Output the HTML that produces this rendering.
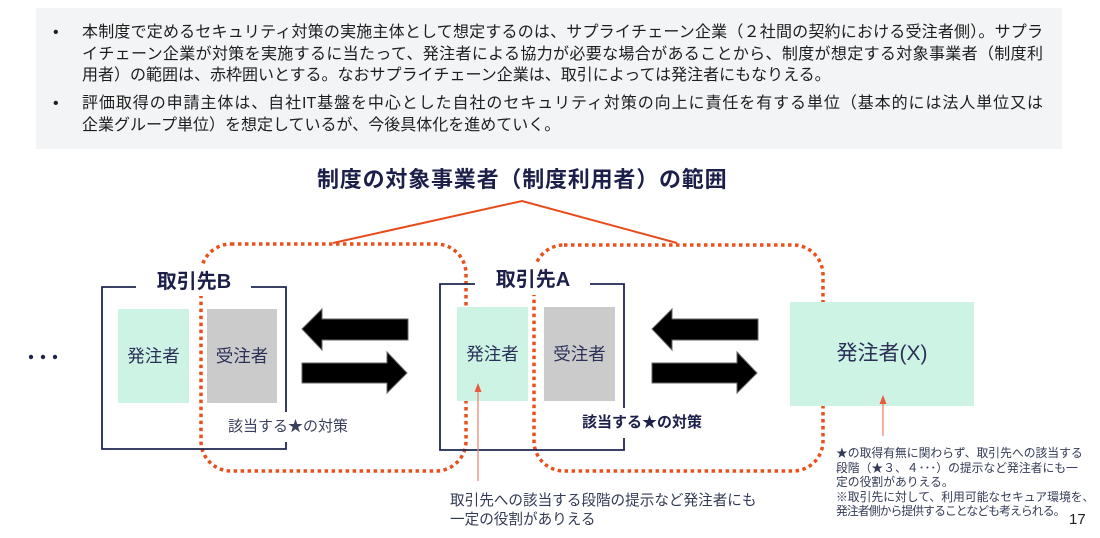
<!DOCTYPE html>
<html lang="ja">
<head>
<meta charset="utf-8">
<style>
  html,body{margin:0;padding:0;background:#fff;}
  body{width:1100px;height:538px;position:relative;overflow:hidden;
       font-family:"Liberation Sans","Noto Sans CJK JP",sans-serif;}
  .abs{position:absolute;white-space:nowrap;}
  .topbox{position:absolute;left:36px;top:8px;width:1026px;height:141px;background:#f2f4f5;}
  .ln{position:absolute;left:82px;width:961px;font-size:16px;line-height:21px;height:21px;color:#1e1e1e;white-space:nowrap;}
  .jst{text-align:justify;text-align-last:justify;white-space:normal;overflow:hidden;}
  .bul{position:absolute;left:53px;font-size:16px;line-height:21px;color:#1e1e1e;}
  svg{position:absolute;left:0;top:0;}
  .boxtxt{font-size:17.5px;color:#2b3058;text-align:center;line-height:24px;}
</style>
</head>
<body>

<div class="topbox"></div>
<div class="bul" style="top:22px;">•</div>
<div class="ln jst" style="top:22px;">本制度で定めるセキュリティ対策の実施主体として想定するのは、サプライチェーン企業（２社間の契約における受注者側）。サプラ</div>
<div class="ln jst" style="top:44px;">イチェーン企業が対策を実施するに当たって、発注者による協力が必要な場合があることから、制度が想定する対象事業者（制度利</div>
<div class="ln" style="top:65px;">用者）の範囲は、赤枠囲いとする。なおサプライチェーン企業は、取引によっては発注者にもなりえる。</div>
<div class="bul" style="top:93px;">•</div>
<div class="ln jst" style="top:93px;">評価取得の申請主体は、自社IT基盤を中心とした自社のセキュリティ対策の向上に責任を有する単位（基本的には法人単位又は</div>
<div class="ln" style="top:115px;">企業グループ単位）を想定しているが、今後具体化を進めていく。</div>

<svg width="1100" height="538" viewBox="0 0 1100 538">
  <polyline points="333,243 522,201 677,243" fill="none" stroke="#e84a1a" stroke-width="2"/>
  <rect x="201" y="244" width="265" height="227" rx="30" ry="30" fill="none" stroke="#e8501c" stroke-width="3.5" stroke-dasharray="3.5 3.5"/>
  <rect x="534" y="245" width="289" height="226" rx="30" ry="30" fill="none" stroke="#e8501c" stroke-width="3.5" stroke-dasharray="3.5 3.5"/>

  <polyline points="136,287 102,287 102,449 286,449 286,442" fill="none" stroke="#1e2650" stroke-width="1.8"/>
  <polyline points="286,412 286,287 251,287" fill="none" stroke="#1e2650" stroke-width="1.8"/>
  <polyline points="475,284 440,284 440,450 624,450 624,438" fill="none" stroke="#1e2650" stroke-width="1.8"/>
  <polyline points="624,408 624,284 590,284" fill="none" stroke="#1e2650" stroke-width="1.8"/>

  <rect x="138" y="265" width="112" height="31" fill="#fff"/>
  <rect x="477" y="263" width="112" height="32" fill="#fff"/>

  <rect x="118" y="309" width="71" height="94" fill="#ccf3e3"/>
  <rect x="207" y="309" width="70" height="94" fill="#cbcbcb"/>
  <rect x="457" y="307" width="71" height="94" fill="#ccf3e3"/>
  <rect x="544" y="307" width="71" height="94" fill="#cbcbcb"/>
  <rect x="790" y="302" width="184" height="104" fill="#ccf3e3"/>

  <circle cx="31" cy="357" r="2.2" fill="#1e2650"/>
  <circle cx="43" cy="357" r="2.2" fill="#1e2650"/>
  <circle cx="55" cy="357" r="2.2" fill="#1e2650"/>

  <polygon points="302,329 322,309 322,319 408,319 408,340 322,340 322,350" fill="#000" stroke="#666" stroke-width="1"/>
  <polygon points="302,363 387,363 387,352 407,373 387,393 387,383 302,383" fill="#000" stroke="#666" stroke-width="1"/>
  <polygon points="652,329 672,309 672,319 758,319 758,340 672,340 672,350" fill="#000" stroke="#666" stroke-width="1"/>
  <polygon points="652,363 737,363 737,352 757,373 737,393 737,383 652,383" fill="#000" stroke="#666" stroke-width="1"/>

  <line x1="478" y1="481" x2="478" y2="390" stroke="#f0876f" stroke-width="1.3"/>
  <polygon points="478,383 474.5,392 481.5,392" fill="#ea5a3c"/>
  <line x1="883" y1="436" x2="883" y2="402" stroke="#f0876f" stroke-width="1.3"/>
  <polygon points="883,395 879.5,404 886.5,404" fill="#ea5a3c"/>
</svg>

<div class="abs" style="left:317px;top:165px;width:410px;text-align:center;font-size:22px;letter-spacing:0.8px;font-weight:bold;color:#1c1f4a;line-height:30px;">制度の対象事業者（制度利用者）の範囲</div>

<div class="abs" style="left:145px;top:268px;width:98px;text-align:center;font-size:20px;font-weight:bold;color:#1c1f4a;line-height:28px;">取引先B</div>
<div class="abs" style="left:484px;top:266px;width:98px;text-align:center;font-size:20px;font-weight:bold;color:#1c1f4a;line-height:28px;">取引先A</div>

<div class="abs boxtxt" style="left:118px;top:344px;width:71px;">発注者</div>
<div class="abs boxtxt" style="left:207px;top:344px;width:70px;">受注者</div>
<div class="abs boxtxt" style="left:457px;top:342px;width:71px;">発注者</div>
<div class="abs boxtxt" style="left:544px;top:342px;width:71px;">受注者</div>
<div class="abs" style="left:790px;top:340px;width:184px;text-align:center;font-size:21px;color:#2b3058;line-height:28px;">発注者(X)</div>

<div class="abs" style="left:228px;top:416px;width:120px;font-size:15px;color:#3a3f5c;line-height:22px;">該当する★の対策</div>
<div class="abs" style="left:582px;top:412px;width:122px;font-size:15px;font-weight:bold;color:#1c1f4a;line-height:22px;">該当する★の対策</div>

<div class="abs" style="left:450px;top:492px;font-size:14.6px;color:#333a55;line-height:19px;">取引先への該当する段階の提示など発注者にも<br>一定の役割がありえる</div>

<div class="abs" style="left:836px;top:446px;font-size:11.8px;color:#333a55;line-height:14.5px;">★の取得有無に関わらず、取引先への該当する<br>段階（★３、４･･･）の提示など発注者にも一<br>定の役割がありえる。<br>※取引先に対して、利用可能なセキュア環境を、<br><span style="letter-spacing:-0.9px;">発注者側から提供することなども考えられる。</span></div>

<div class="abs" style="left:1069px;top:510px;font-size:15px;color:#222;line-height:20px;">17</div>

</body>
</html>
